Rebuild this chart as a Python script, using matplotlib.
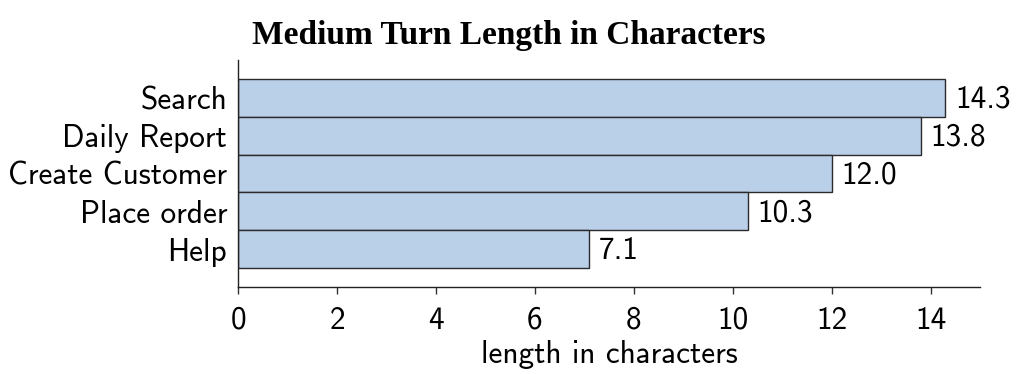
import matplotlib
matplotlib.use("Agg")
import matplotlib.pyplot as plt

categories = ["Search", "Daily Report", "Create Customer", "Place order", "Help"]
values = [14.3, 13.8, 12.0, 10.3, 7.1]
xticks = [0, 2, 4, 6, 8, 10, 12, 14]

plt.rcParams['font.family'] = ['cmss10', 'DejaVu Sans']
plt.rcParams['axes.unicode_minus'] = False
plt.rcParams['mathtext.fontset'] = 'cm'

fs = 22.5

fig = plt.figure(figsize=(10.18, 3.74), dpi=100)
ax = fig.add_axes([0.234, 0.2326, 0.7287, 0.607])

pos = list(range(len(categories)))
ax.barh(pos, values, height=1.0, color="#bacfe8", edgecolor="#2b2b2b", linewidth=1.0)
for p, v in zip(pos, values):
    ax.annotate(f"{v:.1f}", xy=(v, p), xytext=(7, -1), textcoords="offset points",
                va="center", ha="left", fontsize=fs)

ax.set_xlim(0, 15)
ax.set_ylim(len(categories), -1)
ax.set_yticks(pos)
ax.set_yticklabels(categories, fontsize=fs)
ax.set_xticks(xticks)
ax.set_xticklabels([str(t) for t in xticks], fontsize=fs)
ax.tick_params(axis='y', length=0, pad=8)
ax.tick_params(axis='x', length=5, width=1, direction='out', color="#333333", pad=8.5)
for s in ["top", "right"]:
    ax.spines[s].set_visible(False)
for s in ["left", "bottom"]:
    ax.spines[s].set_linewidth(1.0)
    ax.spines[s].set_color("#222222")
ax.set_xlabel("length in characters", fontsize=fs, labelpad=4)

fig.text(0.5, 0.905, "Medium Turn Length in Characters", ha="center", va="center",
         fontsize=24, fontweight="bold", family=["Liberation Serif", "DejaVu Serif"])

fig.savefig("out.png", dpi=100)
